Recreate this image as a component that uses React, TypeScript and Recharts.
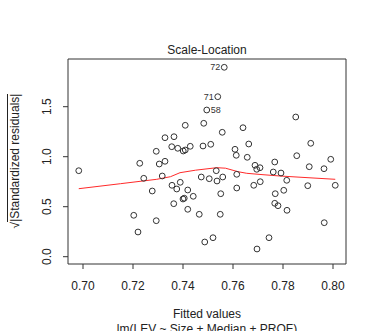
import React from 'react'
import { ScatterChart, Scatter, XAxis, YAxis, ReferenceArea } from 'recharts'

// fitted values and sqrt(|standardized residuals|), sorted by fitted value
const fitted = [
  0.6983, 0.7203, 0.722, 0.7227, 0.7243, 0.7277, 0.7293, 0.7293, 0.7305, 0.7317,
  0.7328, 0.7328, 0.7355, 0.7356, 0.7363, 0.7364, 0.7375, 0.7379, 0.7389, 0.74,
  0.7405, 0.7401, 0.7409, 0.7409, 0.7419, 0.7419, 0.7429, 0.7441, 0.7465, 0.7473,
  0.748, 0.7483, 0.7487, 0.7495, 0.7505, 0.7511, 0.752, 0.7533, 0.7536, 0.7539,
  0.7549, 0.7551, 0.7557, 0.7559, 0.7565, 0.7608, 0.7613, 0.7615, 0.7615, 0.764,
  0.7657, 0.7663, 0.7683, 0.7688, 0.7695, 0.7696, 0.7708, 0.7709, 0.7744, 0.7761,
  0.7767, 0.7767, 0.7769, 0.778, 0.7792, 0.7803, 0.7815, 0.7816, 0.7851, 0.7855,
  0.7899, 0.7905, 0.7911, 0.7964, 0.7965, 0.7991, 0.8009,
]
const sqrtResid = [
  0.86, 0.414, 0.247, 0.934, 0.784, 0.657, 1.054, 0.36, 0.927, 0.807,
  0.954, 1.19, 1.1, 0.714, 0.53, 1.2, 0.677, 1.084, 0.744, 0.577,
  0.585, 1.057, 1.067, 1.314, 0.667, 0.474, 1.104, 0.604, 0.424, 0.797,
  1.107, 1.334, 0.147, 1.467, 0.78, 1.124, 0.19, 0.86, 0.757, 1.6,
  0.424, 0.63, 1.244, 0.797, 1.894, 1.074, 1.014, 0.824, 0.687, 1.29,
  0.994, 1.127, 0.714, 0.914, 0.874, 0.077, 0.89, 0.75, 0.19, 0.847,
  0.947, 0.534, 0.63, 0.51, 0.837, 0.664, 0.764, 0.464, 1.397, 1.01,
  0.71, 0.9, 1.134, 0.88, 0.34, 0.974, 0.714,
]
const labelledIdx = [33, 39, 44]
const labelledNames = ['58', '71', '72']

// red smoother
const smoothX = [0.6983, 0.715, 0.7295, 0.735, 0.7388, 0.745, 0.7535, 0.757, 0.762, 0.7655, 0.772, 0.7788, 0.79, 0.8009]
const smoothY = [0.68, 0.73, 0.774, 0.8, 0.84, 0.865, 0.89, 0.885, 0.85, 0.834, 0.82, 0.807, 0.79, 0.774]

const xTicks = [0.7, 0.72, 0.74, 0.76, 0.78, 0.8]
const yTicks = [0, 0.5, 1, 1.5]

const font = '"Liberation Sans", Arial, sans-serif'

const xMid = (Math.min(...fitted) + Math.max(...fitted)) / 2
const points = fitted.map((x, i) => {
  const k = labelledIdx.indexOf(i)
  return { x, y: sqrtResid[i], name: k >= 0 ? labelledNames[k] : '' }
})
const smooth = smoothX.map((x, i) => ({ x, y: smoothY[i] }))

const Dot = ({ cx, cy, payload }: any) => (
  <g>
    <circle cx={cx} cy={cy} r={2.9} fill="none" stroke="#333" strokeWidth={1} />
    {payload.name && (
      <text
        x={payload.x > xMid ? cx - 4 : cx + 4}
        y={cy}
        textAnchor={payload.x > xMid ? 'end' : 'start'}
        dominantBaseline="central"
        fontSize={9}
        fontFamily={font}
        fill="#333"
      >
        {payload.name}
      </text>
    )}
  </g>
)

const YTick = ({ x, y, payload }: any) => (
  <text
    x={x}
    y={y}
    transform={`rotate(-90 ${x} ${y})`}
    textAnchor="middle"
    dominantBaseline="central"
    fontSize={12}
    fontFamily={font}
    fill="#222"
  >
    {payload.value.toFixed(1)}
  </text>
)

export default function App() {
  return (
    <div style={{ position: 'absolute', left: 0, top: 0, width: 371, height: 331, background: '#fff', overflow: 'hidden', fontFamily: font }}>
      <div style={{ position: 'absolute', left: 68, width: 278, top: 43, textAlign: 'center', fontSize: 12, color: '#222' }}>
        Scale-Location
      </div>
      <div style={{ position: 'absolute', left: 68, width: 278, top: 307, textAlign: 'center', fontSize: 12, color: '#222', lineHeight: '15px' }}>
        Fitted values
        <br />
        lm(LEV ~ Size + Median + PROF)
      </div>
      <div
        style={{
          position: 'absolute', left: 15, top: 161, width: 200, marginLeft: -100, marginTop: -8, height: 16,
          textAlign: 'center', fontSize: 12, color: '#222', lineHeight: '16px', transform: 'rotate(-90deg)', whiteSpace: 'nowrap',
        }}
      >
        √<span style={{ borderTop: '1px solid #222' }}>|Standardized residuals|</span>
      </div>
      <ScatterChart width={371} height={331} margin={{ top: 59, right: 25, bottom: 37, left: 28 }}>
        <XAxis
          type="number"
          dataKey="x"
          domain={[0.694, 0.8052]}
          ticks={xTicks}
          tickFormatter={(v: number) => v.toFixed(2)}
          height={30}
          axisLine={false}
          tickLine={{ stroke: '#333' }}
          tickSize={5}
          tickMargin={12}
          tick={{ fontSize: 12, fill: '#222', fontFamily: font }}
          allowDataOverflow
        />
        <YAxis
          type="number"
          dataKey="y"
          domain={[-0.073, 1.977]}
          ticks={yTicks}
          width={40}
          axisLine={false}
          tickLine={{ stroke: '#333' }}
          tickSize={5}
          tickMargin={16}
          tick={<YTick />}
          allowDataOverflow
        />
        <ReferenceArea x1={0.694} x2={0.8052} y1={-0.073} y2={1.977} fill="none" stroke="#333" strokeWidth={1} ifOverflow="visible" />
        <Scatter data={smooth} line={{ stroke: '#ff2a2a', strokeWidth: 1 }} shape={() => <g />} isAnimationActive={false} />
        <Scatter data={points} shape={<Dot />} isAnimationActive={false} />
      </ScatterChart>
    </div>
  )
}
